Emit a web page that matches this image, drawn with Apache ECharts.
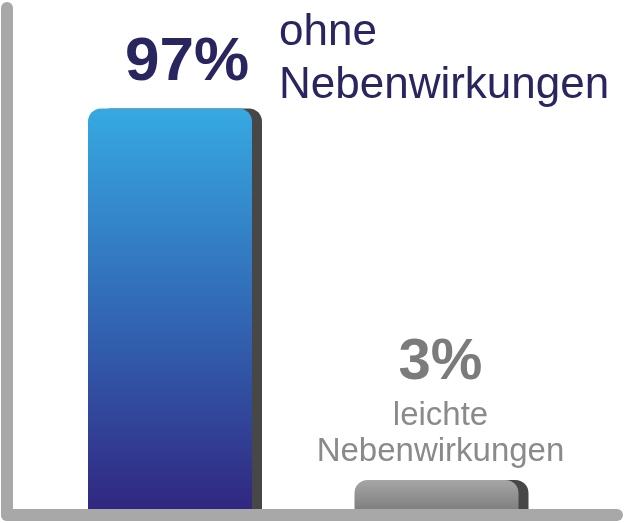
<!DOCTYPE html>
<html>
<head>
<meta charset="utf-8">
<script src="https://cdn.jsdelivr.net/npm/echarts@6/dist/echarts.min.js"></script>
<style>
html,body{margin:0;padding:0;background:#fff;}
#c{width:624px;height:523px;}
</style>
</head>
<body>
<div id="c"></div>
<script>
var categories = ['ohne Nebenwirkungen', 'leichte Nebenwirkungen'];
var values = [97, 3];
var pctLabels = ['97%', '3%'];
var descFirst = ['ohne', 'leichte'];
var descSecond = ['Nebenwirkungen', 'Nebenwirkungen'];

var FONT = '"Liberation Sans", Arial, Helvetica, sans-serif';
var chart = echarts.init(document.getElementById('c'), null, {renderer: 'canvas'});

var axisGray = '#a8a8a8';

var option = {
  animation: false,
  backgroundColor: '#ffffff',
  grid: [
    {left: 7, right: 7, top: 8, bottom: 8},
    {left: 36.75, right: 54.25, top: 8, bottom: 8}
  ],
  xAxis: [
    {
      gridIndex: 0, type: 'category', data: ['', ''], z: 5,
      axisLine: {show: true, lineStyle: {color: axisGray, width: 12, cap: 'round'}},
      axisTick: {show: false}, axisLabel: {show: false}, splitLine: {show: false}
    },
    {
      gridIndex: 1, type: 'category', data: categories,
      axisLine: {show: false}, axisTick: {show: false}, axisLabel: {show: false}, splitLine: {show: false}
    }
  ],
  yAxis: [
    {
      gridIndex: 0, type: 'value', min: 0, max: 1, z: 5,
      axisLine: {show: true, lineStyle: {color: axisGray, width: 12, cap: 'round'}},
      axisTick: {show: false}, axisLabel: {show: false}, splitLine: {show: false}
    },
    {
      gridIndex: 1, type: 'value', min: 0, max: 121,
      axisLine: {show: false}, axisTick: {show: false}, axisLabel: {show: false}, splitLine: {show: false}
    }
  ],
  series: [
    {
      type: 'bar',
      xAxisIndex: 1, yAxisIndex: 1,
      barWidth: 164,
      barMinHeight: 35,
      z: 2,
      data: [
        {
          value: values[0],
          itemStyle: {
            borderRadius: [13, 13, 0, 0],
            color: new echarts.graphic.LinearGradient(0, 0, 0, 1, [
              {offset: 0, color: '#36a9e1'},
              {offset: 0.5, color: '#3268b6'},
              {offset: 1, color: '#31257f'}
            ]),
            shadowColor: '#474747', shadowOffsetX: 10, shadowOffsetY: 0, shadowBlur: 0
          },
          label: {
            show: true, position: 'top', distance: 15, offset: [17, 0],
            formatter: '{p|' + pctLabels[0] + '}',
            rich: {p: {fontFamily: FONT, fontSize: 62, fontWeight: 'bold', color: '#28255f', lineHeight: 62}}
          }
        },
        {
          value: values[1],
          itemStyle: {
            borderRadius: [13, 13, 0, 0],
            color: new echarts.graphic.LinearGradient(0, 0, 0, 1, [
              {offset: 0, color: '#a6a6a6'},
              {offset: 1, color: '#787878'}
            ]),
            shadowColor: '#474747', shadowOffsetX: 10, shadowOffsetY: 0, shadowBlur: 0
          },
          label: {
            show: true, position: 'top', distance: 10, offset: [4, 0],
            formatter: '{p|' + pctLabels[1] + '}\n{d|' + descFirst[1] + '}\n{d|' + descSecond[1] + '}',
            rich: {
              p: {fontFamily: FONT, fontSize: 58, fontWeight: 'bold', color: '#7b7b7b', lineHeight: 70, align: 'center'},
              d: {fontFamily: FONT, fontSize: 33, color: '#8a8a8a', lineHeight: 36, align: 'center'}
            }
          }
        }
      ],
      markPoint: {
        symbol: 'circle', symbolSize: 1,
        itemStyle: {color: 'rgba(0,0,0,0)'},
        data: [{
          coord: [categories[0], values[0]],
          label: {
            show: true, position: 'inside', align: 'left', verticalAlign: 'middle',
            offset: [109, -49],
            formatter: '{d|' + descFirst[0] + '}\n{d|' + descSecond[0] + '}',
            rich: {d: {fontFamily: FONT, fontSize: 44, color: '#28255f', lineHeight: 53}}
          }
        }]
      }
    }
  ]
};
chart.setOption(option);
</script>
</body>
</html>
